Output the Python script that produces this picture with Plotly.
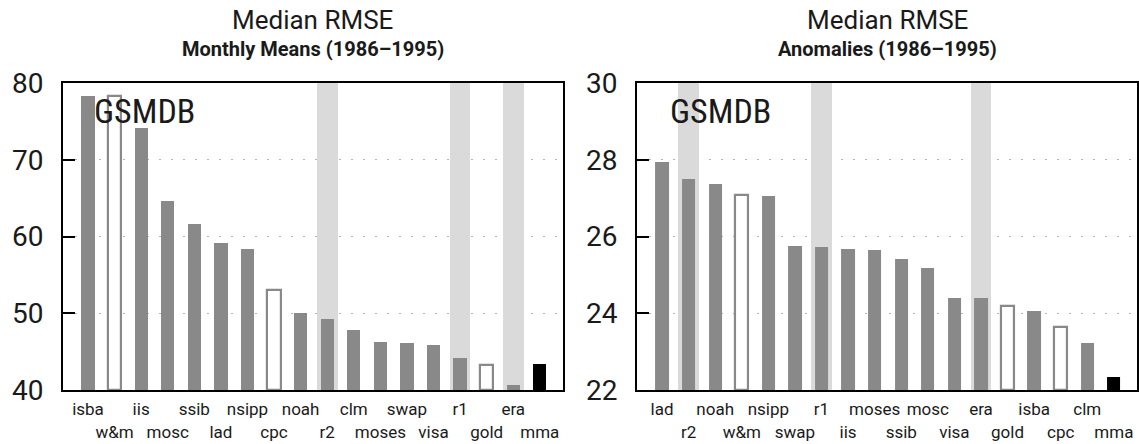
import plotly.graph_objects as go
from plotly.subplots import make_subplots

# ---------------- data ----------------
left_categories = ["isba", "w&m", "iis", "mosc", "ssib", "lad", "nsipp", "cpc", "noah",
                   "r2", "clm", "moses", "swap", "visa", "r1", "gold", "era", "mma"]
left_values = [78.3, 78.3, 74.2, 64.6, 61.6, 59.1, 58.4, 53.0, 50.0,
               49.2, 47.8, 46.3, 46.1, 45.8, 44.2, 43.2, 40.65, 43.4]

right_categories = ["lad", "r2", "noah", "w&m", "nsipp", "swap", "r1", "iis", "moses",
                    "ssib", "mosc", "visa", "era", "gold", "isba", "cpc", "clm", "mma"]
right_values = [27.93, 27.50, 27.37, 27.08, 27.05, 25.76, 25.73, 25.67, 25.64,
                25.41, 25.18, 24.40, 24.40, 24.18, 24.07, 23.64, 23.23, 22.33]

observation_names = ["w&m", "cpc", "gold"]
reanalysis_names = ["r2", "r1", "era"]
ensemble_names = ["mma"]

left_ticks = [40, 50, 60, 70, 80]
right_ticks = [22, 24, 26, 28, 30]

title_main = "Median RMSE"
left_subtitle = "Monthly Means (1986\u20131995)"
right_subtitle = "Anomalies (1986\u20131995)"
panel_tag = "GSMDB"

# ---------------- styles ----------------
FONT = "Roboto, Arial, sans-serif"
NARROW = "Liberation Sans Narrow, Roboto Condensed, Roboto, sans-serif"
BAR_GRAY = "#898989"
COL_GRAY = "#dadada"
TXT = "#1a1a1a"

fig = make_subplots(rows=1, cols=2, horizontal_spacing=0.069)


def add_panel(col, cats, vals, ticks):
    ymin, ymax = ticks[0], ticks[-1]
    idx = list(range(len(cats)))
    # background light-gray columns for reanalyses
    col_x = [i for i, c in zip(idx, cats) if c in reanalysis_names]
    fig.add_trace(go.Bar(
        x=col_x, y=[ymax - ymin] * len(col_x), base=[ymin] * len(col_x),
        width=0.78, marker=dict(color=COL_GRAY, line=dict(width=0)),
        showlegend=False, hoverinfo="skip"), row=1, col=col)
    fills, lines, lws = [], [], []
    for c in cats:
        if c in observation_names:
            fills.append("white"); lines.append(BAR_GRAY); lws.append(2.2)
        elif c in ensemble_names:
            fills.append("black"); lines.append("black"); lws.append(0)
        else:
            fills.append(BAR_GRAY); lines.append(BAR_GRAY); lws.append(0)
    fig.add_trace(go.Bar(
        x=idx, y=[v - ymin for v in vals], base=[ymin] * len(vals),
        width=0.5, marker=dict(color=fills, line=dict(color=lines, width=lws)),
        showlegend=False, name=""), row=1, col=col)
    ticktext = [c if i % 2 == 0 else "<br>" + c for i, c in enumerate(cats)]
    fig.update_xaxes(
        range=[-0.94, len(cats) - 0.13], tickmode="array", tickvals=idx, ticktext=ticktext,
        ticks="", showgrid=False, zeroline=False, automargin=False,
        showline=True, mirror=True, linecolor="black", linewidth=2,
        tickfont=dict(family=FONT, size=17, color=TXT), tickangle=0,
        ticklabelstandoff=3,
        row=1, col=col)
    fig.update_yaxes(
        range=[ymin, ymax], tickmode="array", tickvals=ticks, automargin=False,
        ticks="inside", ticklen=12, tickwidth=2, tickcolor="black",
        showgrid=True, gridcolor="#b4b4b4", gridwidth=1, griddash="2px,10px",
        zeroline=False, showline=True, mirror=True, linecolor="black", linewidth=2,
        tickfont=dict(family=FONT, size=28, color=TXT), ticklabelstandoff=12,
        row=1, col=col)


add_panel(1, left_categories, left_values, left_ticks)
add_panel(2, right_categories, right_values, right_ticks)

for axn, sub, tagx in [("", left_subtitle, 0.058), ("2", right_subtitle, 0.062)]:
    fig.add_annotation(text=title_main, xref=f"x{axn} domain", yref="paper",
                       x=0.5, y=1.205, xanchor="center", yanchor="middle", showarrow=False,
                       font=dict(family=FONT, size=26, color=TXT))
    fig.add_annotation(text="<b>" + sub + "</b>", xref=f"x{axn} domain", yref="paper",
                       x=0.5, y=1.11, xanchor="center", yanchor="middle", showarrow=False,
                       font=dict(family=FONT, size=20, color=TXT))
    fig.add_annotation(text=panel_tag, xref=f"x{axn} domain", yref=f"y{axn} domain",
                       x=tagx, y=0.91, xanchor="left", yanchor="middle", showarrow=False,
                       font=dict(family=NARROW, size=34, color=TXT))

fig.update_layout(
    width=1139, height=444, barmode="overlay", bargap=0,
    margin=dict(l=63, r=2, t=83, b=54, autoexpand=False),
    paper_bgcolor="white", plot_bgcolor="white",
    font=dict(family=FONT, color=TXT),
)

fig.write_html("out.html", config={"displayModeBar": False},
               post_script="document.body.style.margin='0';")
